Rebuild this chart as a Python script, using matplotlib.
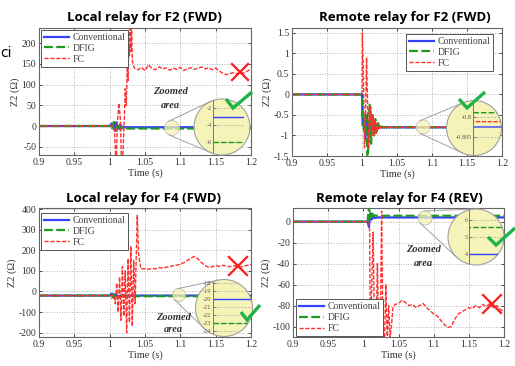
import numpy as np
import matplotlib.pyplot as plt
from matplotlib.patches import Circle

W, H = 515, 366

# ---------------- data ----------------
time_ticks = [0.9, 0.95, 1.0, 1.05, 1.1, 1.15, 1.2]
time_labels = ['0.9', '0.95', '1', '1.05', '1.1', '1.15', '1.2']
names = ['Conventional', 'DFIG', 'FC']

# Local relay for F2 (FWD)
tl_t_conv = [0.9, 1.0, 1.003, 1.006, 1.009, 1.012, 1.015, 1.018, 1.02, 1.2]
tl_conv = [0, 0, 6, -8, 9, -6, 4, -5, -3, -3]
tl_t_dfig = [0.9, 1.0, 1.003, 1.006, 1.009, 1.012, 1.015, 1.018, 1.02, 1.2]
tl_dfig = [0, 0, -5, 10, -12, 5, -9, -4, -6, -6]
tl_t_fc = [0.9, 1.0, 1.005, 1.007, 1.009, 1.011, 1.013, 1.015, 1.017, 1.019,
           1.021, 1.022, 1.0235, 1.025, 1.026, 1.027, 1.028, 1.029, 1.030,
           1.031, 1.032, 1.033,
           1.035, 1.04, 1.045, 1.05, 1.055, 1.06, 1.065, 1.07, 1.075, 1.08,
           1.085, 1.09, 1.095, 1.10, 1.105, 1.11, 1.115, 1.12, 1.125, 1.13,
           1.135, 1.14, 1.145, 1.15, 1.155, 1.16, 1.165, 1.17, 1.175, 1.18,
           1.185, 1.19, 1.195, 1.2]
tl_fc = [0, 0, 0, -15, -100, 10, 55, 20, -100, -60,
         30, 90, 50, 150, 110, 200, 170, 250, 180,
         260, 160, 150,
         140, 136, 142, 134, 148, 139, 136, 143, 138, 141,
         135, 140, 137, 142, 134, 139, 141, 137, 140, 143,
         138, 141, 136, 140, 133, 128, 124, 127, 129, 126,
         131, 128, 133, 138]

# Remote relay for F2 (FWD)
tr_t_conv = [0.9, 1.0, 1.001, 1.003, 1.005, 1.007, 1.009, 1.011, 1.013,
             1.016, 1.02, 1.025, 1.2]
tr_conv = [0, 0, -0.75, -0.6, -1.1, -0.5, -1.0, -0.7, -0.9,
           -0.75, -0.82, -0.8025, -0.8025]
tr_t_dfig = [0.9, 1.0, 1.001, 1.003, 1.005, 1.007, 1.008, 1.0095, 1.011,
             1.013, 1.015, 1.017, 1.019, 1.021, 1.023, 1.025, 1.028, 1.03, 1.2]
tr_dfig = [0, 0, -0.6, -0.9, -0.5, -1.2, -1.7, -1.0, -0.25,
           -1.2, -0.5, -1.0, -0.6, -0.9, -0.7, -0.85, -0.78, -0.799, -0.799]
tr_t_fc = [0.9, 1.0, 1.0005, 1.002, 1.0035, 1.005, 1.0065, 1.008, 1.0095,
           1.011, 1.0125, 1.014, 1.0155, 1.017, 1.0185, 1.020, 1.0215,
           1.023, 1.025, 1.027, 1.03, 1.2]
tr_fc = [0, 0, 1.5, 0.5, -1.3, -0.6, 0.9, -0.2, -1.3,
         -0.9, -0.3, -1.0, -0.5, -1.0, -0.6, -0.95, -0.7,
         -0.85, -0.75, -0.83, -0.8012, -0.8012]

# Local relay for F4 (FWD)
bl_t_conv = [0.9, 1.0, 1.003, 1.006, 1.009, 1.012, 1.015, 1.2]
bl_conv = [-20, -20, -10, -30, -15, -25, -20, -20]
bl_t_dfig = [0.9, 1.0, 1.003, 1.006, 1.009, 1.012, 1.015, 1.2]
bl_dfig = [-20, -20, -30, -12, -28, -22, -23, -23]
bl_t_fc = [0.9, 1.006, 1.008, 1.010, 1.012, 1.014, 1.016, 1.018, 1.020,
           1.022, 1.024, 1.026, 1.028, 1.030, 1.032, 1.034, 1.036, 1.039,
           1.041, 1.044,
           1.05, 1.055, 1.06, 1.065, 1.07, 1.075, 1.08, 1.085, 1.09, 1.095,
           1.10, 1.105, 1.11, 1.115, 1.12, 1.125, 1.13, 1.135, 1.14, 1.145,
           1.15, 1.155, 1.16, 1.165, 1.17, 1.175, 1.18, 1.185, 1.19, 1.195,
           1.2]
bl_fc = [-20, -20, -60, 40, -100, 70, -140, 120, -120,
         100, -200, 160, -150, 220, -170, 150, -60, 370,
         180, 110,
         110, 108, 112, 110, 115, 113, 118, 120, 125, 128,
         132, 140, 150, 162, 170, 158, 140, 125, 118, 120,
         125, 122, 127, 123, 120, 125, 122, 118, 124, 127,
         130]

# Remote relay for F4 (REV)
br_t_conv = [0.9, 1.006, 1.008, 1.010, 1.012, 1.014, 1.016, 1.02, 1.2]
br_conv = [0, 0, -5, 8, 2, 5, 3.5, 4, 4]
br_t_dfig = [0.9, 1.006, 1.008, 1.010, 1.012, 1.014, 1.016, 1.02, 1.2]
br_dfig = [0, 0, 14, 3, 10, 5, 6, 5.6, 5.6]
br_t_fc = [0.9, 1.008, 1.009, 1.010, 1.012, 1.014, 1.016, 1.018, 1.020,
           1.022, 1.024, 1.026, 1.028, 1.030, 1.032, 1.034, 1.036, 1.038,
           1.040, 1.042, 1.045,
           1.05, 1.055, 1.06, 1.065, 1.07, 1.075, 1.08, 1.085, 1.09, 1.095,
           1.10, 1.105, 1.11, 1.115, 1.12, 1.125, 1.13, 1.135, 1.14, 1.145,
           1.15, 1.155, 1.16, 1.165, 1.17, 1.175, 1.18, 1.185, 1.19, 1.195,
           1.2]
br_fc = [0, 0, -10, -115, -60, -10, -115, -115, -40,
         -115, -115, 10, -115, -115, -60, -115, -80, -110,
         -100, -82, -79,
         -78, -75, -77, -80, -79, -82, -80, -78, -82, -85,
         -88, -90, -94, -98, -101, -100, -93, -88, -86, -84,
         -82, -83, -80, -82, -79, -81, -78, -82, -80, -84,
         -85]

# ---------------- styles ----------------
styles = [dict(color='#3340ff', lw=1.6, ls='-'),
          dict(color='#1e9a1e', lw=1.6, ls=(0, (4, 1.5))),
          dict(color='#ff3030', lw=1.0, ls=(0, (3, 1.2)))]
serif = 'Liberation Serif'
plt.rcParams['font.family'] = serif


def px_rect(left, top, right, bottom):
    return [left / W, 1 - bottom / H, (right - left) / W, (bottom - top) / H]


panels = [
    dict(rect=(39, 28, 251, 155), ylim=(-70, 237), yticks=[-50, 0, 50, 100, 150, 200],
         series=[(tl_t_conv, tl_conv), (tl_t_dfig, tl_dfig), (tl_t_fc, tl_fc)],
         title='Local relay for F2 (FWD)', tpos=(144, 17),
         leg=dict(loc='upper left', bbox_to_anchor=(2 / 212, 1 - 2 / 127)),
         small=((172, 128), 7.5), big=((222, 127), 28),
         inset=(213, 244), iylim=(-7.5, -0.9), iyticks=[-6, -4, -2], iylabels=['-6', '-4', '-2'],
         it0=1.088),
    dict(rect=(292, 28, 502, 156), ylim=(-1.5, 1.62), yticks=[-1.5, -1, -0.5, 0, 0.5, 1, 1.5],
         series=[(tr_t_conv, tr_conv), (tr_t_dfig, tr_dfig), (tr_t_fc, tr_fc)],
         title='Remote relay for F2 (FWD)', tpos=(405, 17),
         leg=dict(loc='upper right', bbox_to_anchor=(1 - 9 / 210, 1 - 6 / 128)),
         small=((423, 127), 7), big=((474, 128), 27.5),
         inset=(473, 502), iylim=(-0.8095, -0.796), iyticks=[-0.805, -0.8],
         iylabels=['-0.805', '-0.8'], it0=1.087),
    dict(rect=(39, 208, 251, 337), ylim=(-221, 405), yticks=[-200, -100, 0, 100, 200, 300, 400],
         series=[(bl_t_conv, bl_conv), (bl_t_dfig, bl_dfig), (bl_t_fc, bl_fc)],
         title='Local relay for F4 (FWD)', tpos=(144, 198),
         leg=dict(loc='upper left', bbox_to_anchor=(2 / 212, 1 - 5 / 129)),
         small=((179, 295), 6.5), big=((224, 308), 28.5),
         inset=(213, 252), iylim=(-24.75, -17.5), iyticks=[-24, -23, -22, -21, -20, -19, -18],
         iylabels=['-24', '-23', '-22', '-21', '-20', '-19', '-18'], it0=1.0995),
    dict(rect=(293, 208, 504, 337), ylim=(-110, 13), yticks=[-100, -80, -60, -40, -20, 0],
         series=[(br_t_conv, br_conv), (br_t_dfig, br_dfig), (br_t_fc, br_fc)],
         title='Remote relay for F4 (REV)', tpos=(399, 198),
         leg=dict(loc='lower left', bbox_to_anchor=(3 / 211, 1 / 129)),
         small=((425, 218), 7), big=((476, 237), 28),
         inset=(469, 504), iylim=(3.37, 6.63), iyticks=[4, 5, 6], iylabels=['4', '5', '6'],
         it0=1.088),
]

fig = plt.figure(figsize=(W / 100, H / 100), dpi=100)

# overlay in pixel coordinates for the magnifier circles
ov = fig.add_axes([0, 0, 1, 1], zorder=3)
ov.set_xlim(0, W)
ov.set_ylim(H, 0)
ov.axis('off')

top = fig.add_axes([0, 0, 1, 1], zorder=6)
top.set_xlim(0, W)
top.set_ylim(H, 0)
top.axis('off')

circ_fc = '#f6f3b8'

for p in panels:
    ax = fig.add_axes(px_rect(*p['rect']), zorder=1)
    for (t, v), st, nm in zip(p['series'], styles, names):
        ax.plot(t, v, label=nm, **st)
    ax.set_xlim(0.9, 1.2)
    ax.set_ylim(*p['ylim'])
    ax.set_xticks(time_ticks)
    ax.set_xticklabels(time_labels)
    ax.set_yticks(p['yticks'])
    ax.set_yticklabels([('%g' % y) for y in p['yticks']])
    ax.grid(True, ls=(0, (1, 2)), color='#9a9a9a', lw=0.6)
    ax.tick_params(direction='in', length=2.5, width=0.6, labelsize=7, pad=2,
                   top=True, right=True, colors='#333333')
    for s in ax.spines.values():
        s.set_color('#666666')
        s.set_linewidth(0.8)
    ax.set_xlabel('Time (s)', fontsize=7.5, labelpad=1, color='#333333')
    ax.set_ylabel('Z2 (Ω)', fontsize=7.5, labelpad=1, color='#333333')
    leg = ax.legend(fontsize=7, borderaxespad=0, handlelength=2.6, handletextpad=0.35,
                    labelspacing=0.2, borderpad=0.3, fancybox=False, framealpha=1,
                    edgecolor='#555555', **p['leg'])
    leg.get_frame().set_linewidth(0.7)
    for txt in leg.get_texts():
        txt.set_color('#444444')

    fig.text(p['tpos'][0] / W, 1 - p['tpos'][1] / H, p['title'], ha='center', va='center',
             fontsize=9.5, fontweight='bold', family='Open Sans')

    # magnifier
    (c1, r1), (c2, r2) = p['small'], p['big']
    c1 = np.array(c1, float)
    c2 = np.array(c2, float)
    d = c2 - c1
    L = np.hypot(*d)
    ang = np.arctan2(d[1], d[0])
    a = np.arcsin((r2 - r1) / L)
    for sgn in (1, -1):
        th = ang + sgn * (np.pi / 2 + a)
        n = np.array([np.cos(th), np.sin(th)])
        q1 = c1 + r1 * n
        q2 = c2 + r2 * n
        ov.plot([q1[0], q2[0]], [q1[1], q2[1]], color='#a0a0a0', lw=0.7)
    ov.add_patch(Circle(c1, r1, fc=circ_fc, ec='#b0b0a0', lw=0.6, alpha=0.75))
    big = Circle(c2, r2, fc=circ_fc, ec='#a0a0a0', lw=0.8)
    ov.add_patch(big)

    il, ir = p['inset']
    ins = fig.add_axes(px_rect(il, c2[1] - r2, ir, c2[1] + r2), zorder=4)
    ins.patch.set_visible(False)
    for (t, v), st in zip(p['series'], styles):
        ln, = ins.plot(t, v, color=st['color'], ls=st['ls'], lw=1.0)
        ln.set_clip_path(big)
    ins.set_xlim(p['it0'], p['it0'] + 0.004)
    ins.set_ylim(*p['iylim'])
    ins.set_xticks([])
    ins.set_yticks(p['iyticks'])
    ins.set_yticklabels(p['iylabels'])
    ins.tick_params(axis='y', direction='in', length=2, width=0.5, labelsize=4.5, pad=1,
                    colors='#555555')
    ins.yaxis.grid(True, ls=(0, (3, 2)), color='#aaaaaa', lw=0.5)
    for gl in ins.get_ygridlines():
        gl.set_clip_path(big)
    for k, s in ins.spines.items():
        if k == 'left':
            s.set_color('#777777')
            s.set_linewidth(0.7)
            s.set_clip_path(big)
        else:
            s.set_visible(False)

# "Zoomed area" notes
for x, y in [(170, 92), (173, 317), (423, 250)]:
    top.text(x, y, 'Zoomed', ha='center', va='center', fontsize=7.5, fontweight='bold',
             color='#333333', style='italic')
    top.text(x, y + 13, 'area', ha='center', va='center', fontsize=7.5, fontweight='bold',
             color='#333333', style='italic')

# green ticks and red crosses
checks = [[(226, 99), (233, 108), (252, 92)],
          [(459, 99), (467, 108), (485, 92)],
          [(241, 312), (247, 320), (260, 305)],
          [(488, 237), (496, 245), (515, 228)]]
for c in checks:
    xs, ys = zip(*c)
    top.plot(xs, ys, color='#1fb24a', lw=2.4, solid_capstyle='butt', solid_joinstyle='miter')

crosses = [(240, 72, 8), (238, 266, 9), (492, 304, 9)]
for cx, cy, h in crosses:
    top.plot([cx - h, cx + h], [cy - h, cy + h], color='#ff1a1a', lw=1.6)
    top.plot([cx - h, cx + h], [cy + h, cy - h], color='#ff1a1a', lw=1.6)

# text from neighbouring content at the left edge
top.text(0, 53, 'ci', ha='left', va='center', fontsize=10, family='DejaVu Sans')

fig.savefig('out.png', dpi=100)
